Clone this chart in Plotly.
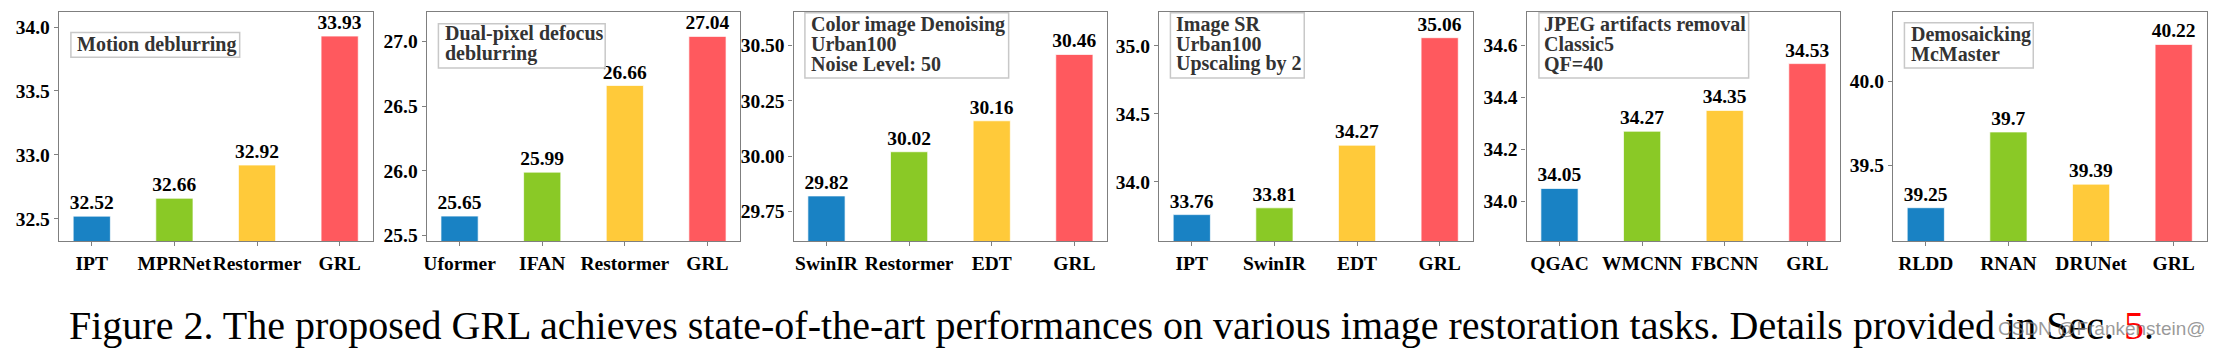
import plotly.graph_objects as go

W, H = 2225, 352

# ---- data ----
methods_1 = ["IPT", "MPRNet", "Restormer", "GRL"]
psnr_1 = [32.52, 32.66, 32.92, 33.93]
methods_2 = ["Uformer", "IFAN", "Restormer", "GRL"]
psnr_2 = [25.65, 25.99, 26.66, 27.04]
methods_3 = ["SwinIR", "Restormer", "EDT", "GRL"]
psnr_3 = [29.82, 30.02, 30.16, 30.46]
methods_4 = ["IPT", "SwinIR", "EDT", "GRL"]
psnr_4 = [33.76, 33.81, 34.27, 35.06]
methods_5 = ["QGAC", "WMCNN", "FBCNN", "GRL"]
psnr_5 = [34.05, 34.27, 34.35, 34.53]
methods_6 = ["RLDD", "RNAN", "DRUNet", "GRL"]
psnr_6 = [39.25, 39.7, 39.39, 40.22]

labels_1 = ["Motion deblurring"]
labels_2 = ["Dual-pixel defocus", "deblurring"]
labels_3 = ["Color image Denoising", "Urban100", "Noise Level: 50"]
labels_4 = ["Image SR", "Urban100", "Upscaling by 2"]
labels_5 = ["JPEG artifacts removal", "Classic5", "QF=40"]
labels_6 = ["Demosaicking", "McMaster"]

caption = ("Figure 2. The proposed GRL achieves state-of-the-art performances on various "
           "image restoration tasks. Details provided in Sec. ")
caption_ref = "5"
watermark = "CSDN @Frankenstein@"

panels = [
    (methods_1, psnr_1, labels_1, [32.325, 34.12], 0.5, ".1f"),
    (methods_2, psnr_2, labels_2, [25.457, 27.23], 0.5, ".1f"),
    (methods_3, psnr_3, labels_3, [29.616, 30.653], 0.25, ".2f"),
    (methods_4, psnr_4, labels_4, [33.566, 35.25], 0.5, ".1f"),
    (methods_5, psnr_5, labels_5, [33.848, 34.729], 0.2, ".1f"),
    (methods_6, psnr_6, labels_6, [39.052, 40.414], 0.5, ".1f"),
]

colors = ["#1982c4", "#8ac926", "#ffca3a", "#ff595e"]

# ---- layout geometry (pixels) ----
plot_lefts = [56, 424.3, 791.7, 1157.5, 1525.7, 1892.5]
plot_w = 314
plot_top, plot_bot = 12, 244.5

box_px = [  # x0, x1, y0, y1, text left, line centers
    (68, 237, 33, 58, 72.5, [45.5]),
    (436, 603, 24, 69, 441, [34, 54]),
    (803, 1007, 13, 79, 807, [25, 45, 64.5]),
    (1169, 1303, 13, 79, 1173, [25, 44.5, 64.5]),
    (1538, 1748, 13, 79, 1541.5, [24.5, 45, 64.5]),
    (1904, 2033, 23, 69, 1909, [34.5, 54.5]),
]

def px(x):
    return x / W

def py(y):
    return 1 - y / H

serif = "Liberation Serif"
fig = go.Figure()
shapes = []
annotations = []
layout = {}

for i, (cats, vals, labels, yr, dt, fmt) in enumerate(panels):
    n = i + 1
    xa = "x" if n == 1 else f"x{n}"
    ya = "y" if n == 1 else f"y{n}"
    xs = list(range(len(cats)))
    fig.add_trace(go.Bar(
        x=xs, y=vals, width=0.45, xaxis=xa, yaxis=ya,
        marker=dict(color=colors, line=dict(color="rgba(255,255,255,0.7)", width=1)),
        text=[str(v) for v in vals], textposition="outside", cliponaxis=False,
        constraintext="none",
        textfont=dict(family=serif, size=19.5, color="black", weight="bold"),
        showlegend=False,
    ))
    axis_common = dict(showline=True, mirror=True, linecolor="#7f7f7f", linewidth=1.3,
                       ticks="outside", ticklen=4, tickwidth=1, tickcolor="#7f7f7f",
                       showgrid=False, zeroline=False)
    layout[f"xaxis{'' if n == 1 else n}"] = dict(
        domain=[px(plot_lefts[i]), px(plot_lefts[i] + plot_w)],
        anchor=ya, range=[-0.3975, 3.3975], tickmode="array", tickvals=xs, ticktext=cats,
        tickangle=0,
        tickfont=dict(family=serif, size=19.5, color="black", weight="bold"),
        **axis_common)
    layout[f"yaxis{'' if n == 1 else n}"] = dict(
        domain=[py(plot_bot), py(plot_top)], anchor=xa, range=yr, dtick=dt, tick0=0,
        tickformat=fmt,
        tickfont=dict(family=serif, size=19.5, color="black", weight="bold"),
        **axis_common)
    x0, x1, y0, y1, tl, lines = box_px[i]
    shapes.append(dict(type="rect", xref="paper", yref="paper",
                       x0=px(x0), x1=px(x1), y0=py(y1), y1=py(y0),
                       line=dict(color="#c8c8c8", width=1.5), fillcolor="rgba(255,255,255,0.8)"))
    for t, yc in zip(labels, lines):
        annotations.append(dict(text=t, xref="paper", yref="paper", x=px(tl), y=py(yc),
                                xanchor="left", yanchor="middle", showarrow=False,
                                font=dict(family=serif, size=20, color="#333333", weight="bold")))

annotations.append(dict(
    text=caption + f'<span style="color:#ff0000">{caption_ref}</span>.',
    xref="paper", yref="paper", x=px(64), y=py(337), xanchor="left", yanchor="bottom",
    yshift=-18, showarrow=False, font=dict(family=serif, size=40, color="black")))
annotations.append(dict(
    text=watermark, xref="paper", yref="paper", x=px(2208), y=py(333),
    xanchor="right", yanchor="middle", showarrow=False,
    font=dict(family="Liberation Sans", size=19, color="rgba(120,120,120,0.75)")))

fig.update_layout(
    width=W, height=H, margin=dict(l=0, r=0, t=0, b=0),
    paper_bgcolor="white", plot_bgcolor="white",
    shapes=shapes, annotations=annotations, **layout)

fig.write_html("out.html")
